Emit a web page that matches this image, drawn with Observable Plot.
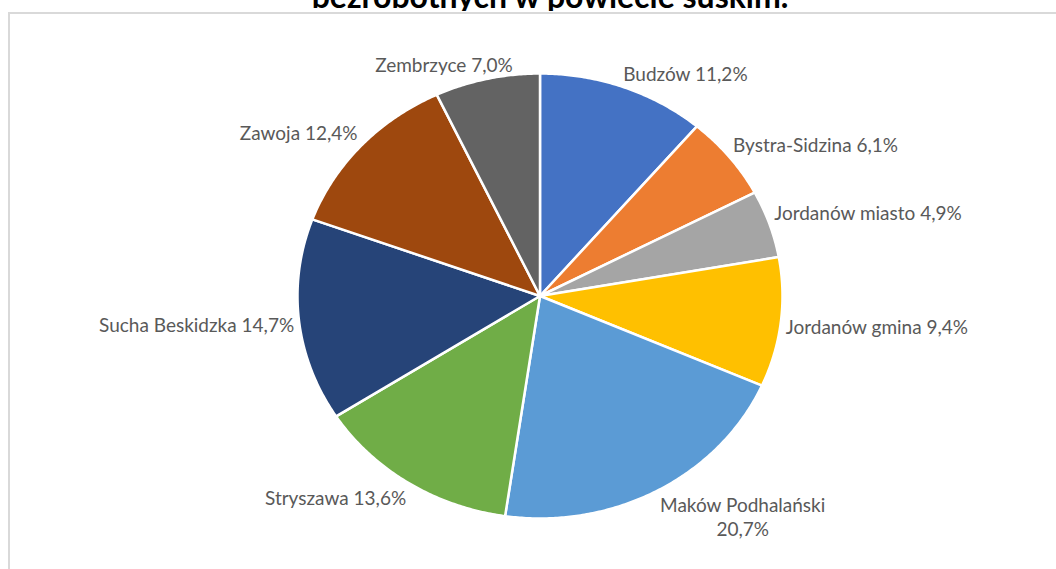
<!DOCTYPE html>
<html>
<head>
<meta charset="utf-8">
<script src="https://cdn.jsdelivr.net/npm/d3@7"></script>
<script src="https://cdn.jsdelivr.net/npm/@observablehq/plot@0.6"></script>
<style>
  html, body { margin: 0; padding: 0; background: #fff; }
  #wrap { position: relative; width: 1056px; height: 569px; overflow: hidden; background: #fff; }
  #chart { position: absolute; left: 0; top: 0; }
  #title { position: absolute; left: 0; top: 0; width: 1056px; height: 11px; overflow: hidden; }
  #title div { position: absolute; left: 0; top: -23px; width: 1100px; text-align: center;
    font: bold 32px Lato, sans-serif; line-height: 38px; color: #000; white-space: nowrap; }
  #frame { position: absolute; left: 8px; top: 12px; width: 1100px; height: 600px;
    border-top: 2px solid #d9d9d9; border-left: 2px solid #d9d9d9; }
</style>
</head>
<body>
<div id="wrap">
  <div id="chart"></div>
  <div id="frame"></div>
  <div id="title"><div>bezrobotnych w powiecie suskim.</div></div>
</div>
<script>
// ---- data ----
const municipalities = ["Budzów", "Bystra-Sidzina", "Jordanów miasto", "Jordanów gmina",
  "Maków Podhalański", "Stryszawa", "Sucha Beskidzka", "Zawoja", "Zembrzyce"];
const shares = [11.2, 6.1, 4.9, 9.4, 20.7, 13.6, 14.7, 12.4, 7.0];
const sliceColors = ["#4472C4", "#ED7D31", "#A5A5A5", "#FFC000", "#5B9BD5",
  "#70AD47", "#264478", "#9E480E", "#636363"];
const wrappedLabels = ["Maków Podhalański"];

// ---- layout ----
const W = 1056, H = 569;
const mL = 297, mR = 274, mT = 73, mB = 51;
const pxPerX = (W - mL - mR) / 2, pxPerY = (H - mT - mB) / 2;
const fontSize = 19, lineGap = 24;

const rows = municipalities.map((name, i) => ({
  name, share: shares[i],
  label: name + (wrappedLabels.includes(name) ? "\n" : " ") +
    shares[i].toFixed(1).replace(".", ",") + "%"
}));
const arcs = d3.pie().sort(null).value(d => d.share)(rows);

// polygon points of each slice
const pts = [];
for (const a of arcs) {
  const n = Math.max(2, Math.ceil((a.endAngle - a.startAngle) / (Math.PI / 360)));
  pts.push({name: a.data.name, x: 0, y: 0});
  for (let k = 0; k <= n; k++) {
    const t = a.startAngle + (a.endAngle - a.startAngle) * k / n;
    pts.push({name: a.data.name, x: Math.sin(t), y: Math.cos(t)});
  }
  pts.push({name: a.data.name, x: 0, y: 0});
}

function draw() {
  const ctx = document.createElement("canvas").getContext("2d");
  ctx.font = `${fontSize}px Lato`;
  const clamp = v => Math.max(0, Math.min(1, v));
  const labels = arcs.map(a => {
    const m = (a.startAngle + a.endAngle) / 2;
    const s = Math.sin(m), c = Math.cos(m);
    const lines = a.data.label.split("\n");
    const w = d3.max(lines, l => ctx.measureText(l).width);
    const h = (lines.length - 1) * lineGap + 20;
    const f = clamp(0.5 - 1.4 * s);
    const g = clamp(0.5 + 1.5 * c);
    const gap = 1.02;
    return {
      label: a.data.label,
      x: s * gap + (0.5 - f) * w / pxPerX,
      y: c * gap - (0.5 - g) * h / pxPerY
    };
  });

  const chart = Plot.plot({
    width: W, height: H,
    marginLeft: mL, marginRight: mR, marginTop: mT, marginBottom: mB,
    x: {domain: [-1, 1], axis: null},
    y: {domain: [-1, 1], axis: null},
    color: {domain: municipalities, range: sliceColors},
    style: {fontFamily: "Lato, sans-serif", fontSize: fontSize + "px", background: "transparent", overflow: "visible"},
    marks: [
      Plot.line(pts, {x: "x", y: "y", z: "name", fill: "name", stroke: "white",
        strokeWidth: 2.5, strokeLinejoin: "round", curve: "linear"}),
      Plot.text(labels, {x: "x", y: "y", text: "label", textAnchor: "middle",
        lineAnchor: "middle", lineHeight: lineGap / fontSize, fill: "#595959",
        fontSize: fontSize})
    ]
  });
  document.getElementById("chart").appendChild(chart);
}
(document.fonts && document.fonts.load ? document.fonts.load(`${fontSize}px Lato`) : Promise.resolve())
  .then(draw, draw);
</script>
</body>
</html>
